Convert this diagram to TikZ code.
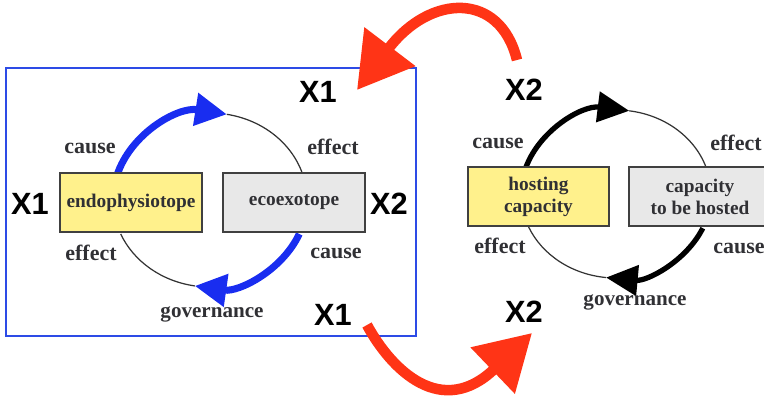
\documentclass[tikz,border=0pt]{standalone}
\usepackage{fontspec}
\setmainfont{Liberation Serif}
\newfontfamily\xfont{Liberation Sans}
\usetikzlibrary{arrows.meta}

\definecolor{boxyellow}{RGB}{255,241,140}
\definecolor{boxgray}{RGB}{232,232,232}
\definecolor{loopblue}{RGB}{25,45,240}
\definecolor{frameblue}{RGB}{45,75,230}
\definecolor{swapred}{RGB}{255,52,22}
\definecolor{labgray}{RGB}{48,48,52}

\begin{document}
\begin{tikzpicture}[x=0.02cm,y=0.02cm,
  factor/.style={draw=black!75,line width=1.1pt,minimum width=2.83cm,minimum height=1.18cm,inner sep=0pt,align=center,text=labgray,font=\fontsize{11}{12.5}\selectfont\bfseries},
  lab/.style={text=labgray,font=\fontsize{12.5}{14}\selectfont\bfseries},
  govlab/.style={text=labgray,font=\fontsize{12}{14}\selectfont\bfseries},
  xlab/.style={font=\xfont\bfseries\fontsize{17.5}{20}\selectfont},
  loopline/.style={black!80,line width=0.7pt},
  bluecause/.style={loopblue,line width=4pt,-{Triangle[length=18pt,width=18pt]}},
  blackcause/.style={black,line width=3pt,-{Triangle[length=18pt,width=17pt]}},
  swaparrow/.style={swapred,line width=6pt,-{Triangle[length=31pt,width=35pt]}}]
\useasboundingbox (0,0) rectangle (764,396);

\draw[frameblue,line width=1pt] (6,60) rectangle (416,328);

% left loop
\coordinate (cycL) at (210,196);
\draw[bluecause] (cycL) ++(164:97 and 87) arc[start angle=164,end angle=80,x radius=97,y radius=87];
\draw[loopline] (cycL) ++(80:97 and 87) arc[start angle=80,end angle=16,x radius=97,y radius=87];
\draw[bluecause] (cycL) ++(-23:97 and 87) arc[start angle=-23,end angle=-99,x radius=97,y radius=87];
\draw[loopline] (cycL) ++(-99:97 and 87) arc[start angle=-99,end angle=-157,x radius=97,y radius=87];
\node[factor,fill=boxyellow] (endo) at (131,193.5) {endophysiotope};
\node[factor,fill=boxgray] (ecoexo) at (294,193.5) {ecoexotope};

\node[lab] (causeA) at (90,248) {cause};
\node[lab] (effectA) at (333,249) {effect};
\node[lab] (effectB) at (91,143) {effect};
\node[lab] (causeB) at (336,143) {cause};
\node[govlab] (govA) at (212,82) {governance};
\node[xlab] (x1left) at (30,192) {X1};
\node[xlab] (x2left) at (389,192) {X2};
\node[xlab] (x1top) at (318,304) {X1};
\node[xlab] (x1bot) at (333,81) {X1};

% right loop
\coordinate (cycR) at (616,202);
\draw[blackcause] (cycR) ++(164:95 and 84) arc[start angle=164,end angle=82,x radius=95,y radius=84];
\draw[loopline] (cycR) ++(82:95 and 84) arc[start angle=82,end angle=17,x radius=95,y radius=84];
\draw[blackcause] (cycR) ++(-24:95 and 84) arc[start angle=-24,end angle=-96,x radius=95,y radius=84];
\draw[loopline] (cycR) ++(-96:95 and 84) arc[start angle=-96,end angle=-157,x radius=95,y radius=84];
\node[factor,fill=boxyellow] (hosting) at (538.5,199.5) {hosting\\capacity};
\node[factor,fill=boxgray] (hosted) at (700,199.5) {capacity\\to be hosted};

\node[lab] (causeC) at (498,253) {cause};
\node[lab] (effectC) at (736,253) {effect};
\node[lab] (effectD) at (500,150) {effect};
\node[lab] (causeD) at (739,148) {cause};
\node[govlab] (govB) at (635,94) {governance};
\node[xlab] (x2top) at (524,306) {X2};
\node[xlab] (x2bot) at (524,84) {X2};

% swaps
\coordinate (swapA) at (517,336);
\coordinate (swapB) at (357,306);
\coordinate (swapC) at (367,71);
\coordinate (swapD) at (532,63);
\draw[swaparrow] (swapA) .. controls (500,405) and (430,402) .. (swapB);
\draw[swaparrow] (swapC) .. controls (392,25) and (442,-23) .. (swapD);
\end{tikzpicture}
\end{document}
